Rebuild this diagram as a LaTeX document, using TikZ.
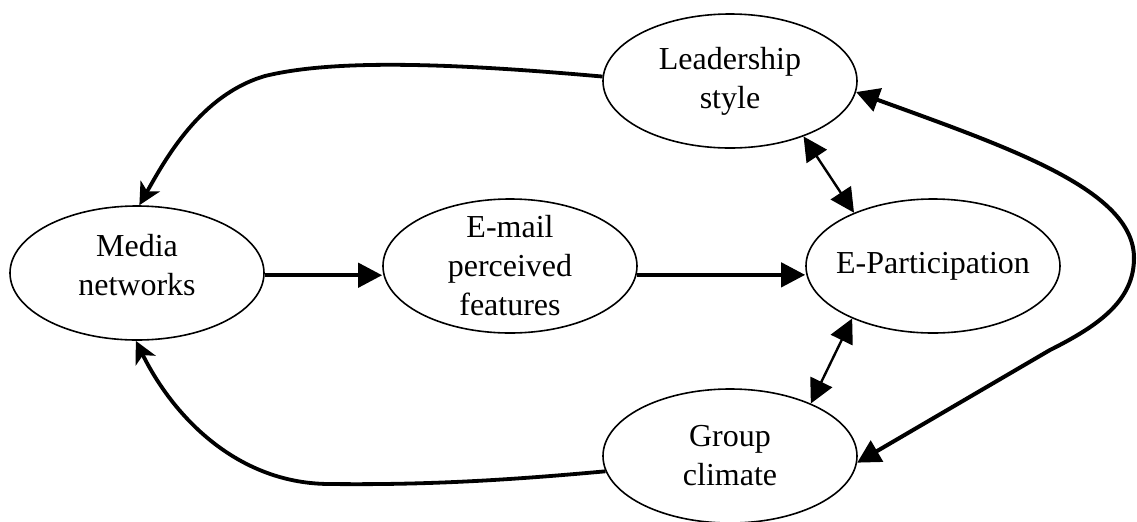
\documentclass[tikz,border=0pt]{standalone}
\usepackage{fontspec}
\setmainfont{Liberation Serif}
\usetikzlibrary{shapes.geometric,arrows.meta}
\begin{document}
\begin{tikzpicture}[x=0.5pt,y=-0.5pt,
  concept/.style={ellipse,draw,line width=0.8pt,minimum width=127pt,minimum height=67pt,inner sep=0pt},
  caption/.style={align=center,font=\fontsize{16pt}{19.5pt}\selectfont,inner sep=0pt},
  flow/.style={line width=2.2pt,-{Triangle[length=12pt,width=12pt]}},
  mutual/.style={line width=1.2pt,{Triangle[length=12pt,width=12pt]}-{Triangle[length=12pt,width=12pt]}},
  loopback/.style={line width=1.9pt,line join=round,-{Stealth[length=11pt,width=11pt,inset=3pt]}},
  wide/.style={line width=2pt,line join=round,{Triangle[length=11.5pt,width=12pt]}-{Triangle[length=11.5pt,width=12pt]}}]
\useasboundingbox (0,0) rectangle (1137,521);

% concept ellipses
\node[concept] (media) at (137,273) {};
\node[concept] (email) at (510,266) {};
\node[concept] (epart) at (933,266) {};
\node[concept] (lead)  at (730,81)  {};
\node[concept] (group) at (730,456) {};

% their captions
\node[caption] (mediatext) at ([yshift=4pt]media.center) {Media\\networks};
\node[caption] (emailtext) at (email.center) {E-mail\\perceived\\features};
\node[caption] (eparttext) at (epart.center) {E-Participation};
\node[caption] (leadtext)  at (lead.center)  {Leadership\\style};
\node[caption] (grouptext) at (group.center) {Group\\climate};

% main chain
\draw[flow] (media.-1) -- (media.-1 -| email.west);
\draw[flow] (email.-4) -- (email.-4 -| epart.west);

% two-way links with participation
\draw[mutual] (lead.-37) -- (epart.146);
\draw[mutual] (epart.213) -- (group.33);

% feedback into media networks
\draw[loopback] (lead.178) .. controls (440,62) and (330,60) .. (265,76)
  .. controls (200,95) and (165,160) .. (media.88);
\draw[loopback] (group.187) .. controls (500,481) and (420,485) .. (330,484)
  .. controls (240,484) and (175,420) .. (media.-91);

% outer link between leadership and climate
\draw[wide] (lead.-5) .. controls (1010,148) and (1134,190) .. (1134,258)
  .. controls (1134,300) and (1100,325) .. (1050,350) -- (group.-3);
\end{tikzpicture}
\end{document}
